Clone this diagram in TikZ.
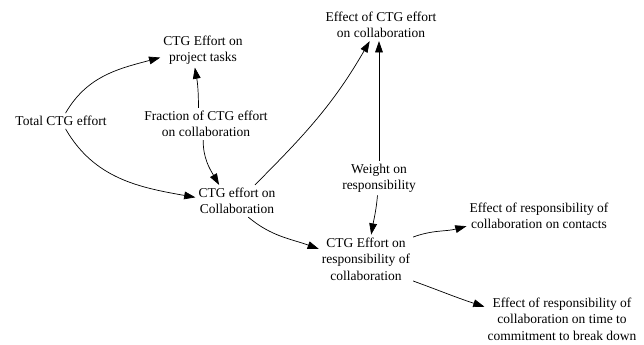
\documentclass[tikz,border=0pt]{standalone}
\usepackage{fontspec}
\setmainfont{Liberation Serif}
\usepackage{tikz}
\usetikzlibrary{arrows.meta, positioning}

\begin{document}
\begin{tikzpicture}[
    x=0.025cm, y=-0.025cm,
    var/.style={align=center, inner sep=2pt,
                font=\fontsize{9.6}{11.7}\selectfont},
    link/.style={-{Triangle[length=8pt, width=5.5pt]}, line width=0.5pt},
  ]
    \useasboundingbox (0,0) rectangle (644,344);

    % Left side
    \node[var] (total) at (61,121) {Total CTG effort};
    \node[var] (tasks) at (203,50) {CTG Effort on\\project tasks};
    \node[var] (frac) at (206,124) {Fraction of CTG effort\\on collaboration};
    \node[var] (collab) at (237,201) {CTG effort on\\Collaboration};

    % Middle
    \node[var] (effect) at (381,25) {Effect of CTG effort\\on collaboration};
    \node[var] (weight) at (379,178) {Weight on\\responsibility};
    \node[var] (resp) at (366,259) {CTG Effort on\\responsibility of\\collaboration};

    % Right side
    \node[var] (contacts) at (539,216) {Effect of responsibility of\\collaboration on contacts};
    \node[var] (breakdown) at (562,319) {Effect of responsibility of\\collaboration on time to\\commitment to break down};

    % Arrows
    \draw[link] (total.60) to[out=60, in=195] (tasks.190);
    \draw[link] (total.-60) to[out=-60, in=170] (collab.175);
    \draw[link] (frac.115) to[out=90, in=-80] (tasks.-115);
    \draw[link] (frac.-100) to[out=-90, in=120] (collab.138);
    \draw[link] (collab.42) to[out=45, in=-120] (effect.-125);
    \draw[link] (weight.north) -- (effect.south -| weight.north);
    \draw[link] (weight.-95) to[out=-95, in=80] (resp.78);
    \draw[link] (collab.-55) to[out=-40, in=160] (resp.168);
    \draw[link] (resp.25) to[out=20, in=195] (contacts.188);
    \draw[link] (resp.-25) to[out=-20, in=162] (breakdown.171);
  \end{tikzpicture}
\end{document}
